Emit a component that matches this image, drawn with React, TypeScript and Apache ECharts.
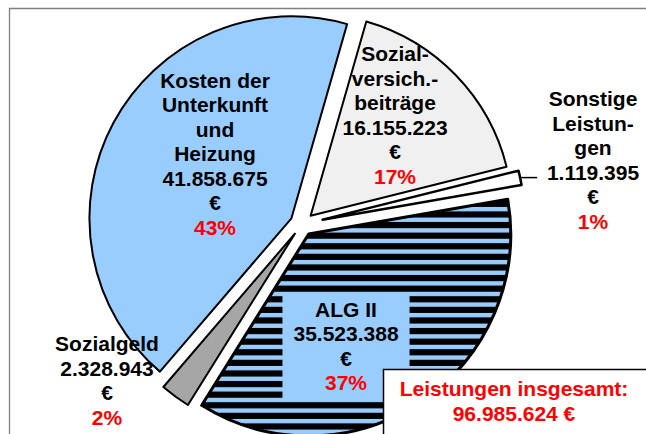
import React, { useEffect, useRef } from 'react';
import * as echarts from 'echarts';

// ---- data ----
const CATEGORIES = [
  'Sozial-\nversich.-\nbeiträge',
  'Sonstige\nLeistun-\ngen',
  'ALG II',
  'Sozialgeld',
  'Kosten der\nUnterkunft\nund\nHeizung',
];
const VALUES = [16155223, 1119395, 35523388, 2328943, 41858675];
const CURRENCY = '€';
const TOTAL_TITLE = 'Leistungen insgesamt:';

// ---- styles / layout ----
const FILLS = ['#F0F0F0', '#FFFFFF', 'stripes', '#A6A6A6', '#99CCFF'];
const BORDER_WIDTHS = [2, 2.5, 3, 2, 2];
const LABEL_POS: number[][] = [
  [395, 115],
  [593, 160],
  [346, 346],
  [107, 380.5],
  [215, 153.5],
];
const CENTER = [302, 224];
const RADIUS = 202;
const START_ANGLE = 74;
const OFFSET_MAIN = 12;
const OFFSET_SMALL = 21;
const SMALL_INDEX = 1; // slice exploded further, label with leader line
const FONT = '"Liberation Sans", Arial, sans-serif';

function fmtNum(v: number): string {
  const s = String(Math.round(v));
  let out = '';
  for (let i = 0; i < s.length; i++) {
    if (i > 0 && (s.length - i) % 3 === 0) out += '.';
    out += s[i];
  }
  return out;
}

function makeStripes(): HTMLCanvasElement {
  const c = document.createElement('canvas');
  c.width = 8;
  c.height = 53;
  const ctx = c.getContext('2d')!;
  ctx.fillStyle = '#99CCFF';
  ctx.fillRect(0, 0, 8, 53);
  ctx.fillStyle = '#000000';
  for (let k = 0; k < 5; k++) {
    ctx.fillRect(0, k * 10.6, 8, 6.2);
  }
  return c;
}

export default function App() {
  const ref = useRef<HTMLDivElement>(null);
  useEffect(() => {
    if (!ref.current) return;
    const chart = echarts.init(ref.current, undefined, { renderer: 'svg' });
    const stripes = makeStripes();
    const fillFor = (i: number): any =>
      FILLS[i] === 'stripes' ? { image: stripes, repeat: 'repeat' } : FILLS[i];

    const total = VALUES.reduce((a, b) => a + b, 0);

    const mkData = (visible: (i: number) => boolean) =>
      VALUES.map((v, i) => ({
        name: CATEGORIES[i],
        value: v,
        selected: visible(i),
        itemStyle: visible(i)
          ? { color: fillFor(i), borderColor: '#000', borderWidth: BORDER_WIDTHS[i] }
          : { color: 'rgba(0,0,0,0)', borderWidth: 0 },
      }));

    const common = {
      type: 'pie' as const,
      center: CENTER,
      radius: RADIUS,
      startAngle: START_ANGLE,
      clockwise: true,
      selectedMode: 'multiple' as const,
      silent: true,
      emphasis: { disabled: true },
      label: { show: false },
      labelLine: { show: false },
    };

    // labels (text derived from data)
    const labels = VALUES.map((v, i) => {
      const pct = Math.round((v / total) * 100);
      const isBoxed = FILLS[i] === 'stripes';
      return {
        type: 'text',
        z: 50,
        x: LABEL_POS[i][0],
        y: LABEL_POS[i][1],
        style: {
          text: `${CATEGORIES[i]}\n${fmtNum(v)}\n${CURRENCY}\n{p|${pct}%}`,
          fill: '#000',
          fontFamily: FONT,
          fontWeight: 'bold',
          fontSize: 21,
          lineHeight: 24.5,
          align: 'center',
          verticalAlign: 'middle',
          backgroundColor: isBoxed ? '#99CCFF' : undefined,
          padding: isBoxed ? [4, 11, 4, 11] : 0,
          rich: {
            p: { fill: '#FF0000', fontFamily: FONT, fontWeight: 'bold', fontSize: 21, lineHeight: 24.5 },
          },
        },
      };
    });

    // leader line for the small slice, from pie geometry
    let cum = 0;
    for (let i = 0; i < SMALL_INDEX; i++) cum += VALUES[i];
    const midDeg = 90 - START_ANGLE + ((cum + VALUES[SMALL_INDEX] / 2) / total) * 360;
    const midRad = (midDeg * Math.PI) / 180;
    const reach = RADIUS + OFFSET_SMALL + 1;
    const lx = CENTER[0] + reach * Math.sin(midRad);
    const ly = CENTER[1] - reach * Math.cos(midRad);

    chart.setOption({
      animation: false,
      backgroundColor: '#fff',
      series: [
        { ...common, selectedOffset: OFFSET_MAIN, data: mkData((i) => i !== SMALL_INDEX) },
        { ...common, selectedOffset: OFFSET_SMALL, data: mkData((i) => i === SMALL_INDEX) },
      ],
      graphic: [
        {
          type: 'rect',
          z: -1,
          shape: { x: 9.5, y: 8.5, width: 800, height: 600 },
          style: { fill: 'none', stroke: '#808080', lineWidth: 1.3 },
        },
        {
          type: 'line',
          z: 40,
          shape: { x1: lx, y1: ly, x2: lx + 16, y2: ly },
          style: { stroke: '#000', lineWidth: 1.5 },
        },
        ...labels,
        {
          type: 'rect',
          z: 100,
          shape: { x: 383.5, y: 369.5, width: 270, height: 90 },
          style: { fill: '#fff', stroke: '#000', lineWidth: 1.5 },
        },
        {
          type: 'text',
          z: 101,
          x: 514,
          y: 400.5,
          style: {
            text: `${TOTAL_TITLE}\n${fmtNum(total)} ${CURRENCY}`,
            fill: '#FF0000',
            font: `bold 21px ${FONT}`,
            lineHeight: 25,
            align: 'center',
            verticalAlign: 'middle',
          },
        },
      ],
    });
    return () => chart.dispose();
  }, []);
  return (
    <div
      ref={ref}
      style={{ position: 'fixed', left: 0, top: 0, width: 646, height: 434 }}
    />
  );
}
